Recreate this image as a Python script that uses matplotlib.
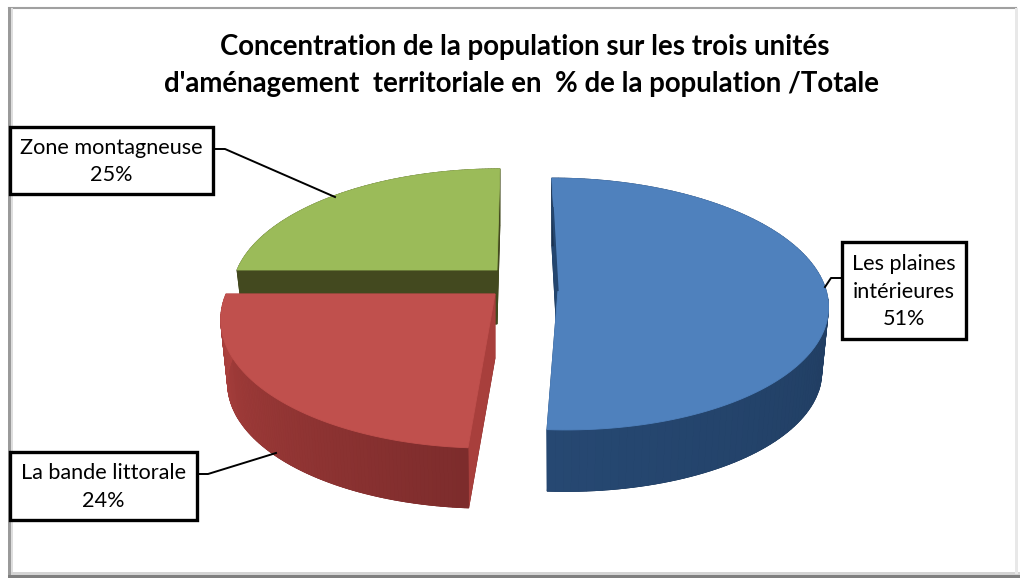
#!/usr/bin/env python3
import numpy as np
import matplotlib
matplotlib.use("Agg")
import matplotlib.pyplot as plt
from matplotlib.colors import to_rgb
from matplotlib.patches import Polygon, Rectangle

plt.rcParams["font.family"] = ["Lato", "DejaVu Sans"]

categories = ["Les plaines\nintérieures", "La bande littorale", "Zone montagneuse"]
values = [51, 24, 25]

title_lines = [
    "Concentration de la population sur les trois unités",
    "d'aménagement  territoriale en  % de la population /Totale",
]

top_colors = ["#4f81bd", "#c0504d", "#9bbb59"]
# side colour at the start and at the end of each slice arc
side_colors = [("#1b3250", "#264872"), ("#7d2c2c", "#ad413e"), ("#43491f", "#43491f")]
radial_colors = ["#24466f", "#a83f3c", "#43491f"]

# apex, half width, depth scale, perspective, shear, thickness (in pixels)
slices_geo = [
    dict(ax=558, ay=290, a=268, b=124.4, k=0.111, s=-7, depth=65),
    dict(ax=495, ay=294, a=269, b=127, k=0.176, s=5.4, depth=64),
    dict(ax=497, ay=270, a=260, b=119, k=0.176, s=3.5, depth=54),
]
SHRINK = 0.975

# box x0, y0, x1, y1 and leader line, pixels
boxes = [(842, 242, 966, 339), (10, 452, 197, 520), (10, 127, 213, 194)]
leaders = [
    ([842, 831, 825], [278, 278, 287]),
    ([197, 208, 276], [474, 474, 453]),
    ([213, 225, 335], [149, 149, 197]),
]


def project(g, theta, depth=0.0, shrink=1.0):
    x = np.sin(theta)
    y = np.cos(theta)
    w = 1 + g["k"] * y
    sx = g["ax"] + shrink * (g["a"] * x + g["s"] * y) / w
    sy = g["ay"] + depth - shrink * g["b"] * y / w
    return sx, sy


def mix(c1, c2, t):
    c1, c2 = np.array(to_rgb(c1)), np.array(to_rgb(c2))
    return tuple(c1 + (c2 - c1) * t)


def poly(ax, xs, ys, color, z):
    ax.add_patch(Polygon(np.column_stack([xs, ys]), closed=True, fc=color, ec=color, lw=0.6, zorder=z))


def draw_slice(ax, g, start, end, top, side, radial, z):
    t = np.linspace(start, end, 120)
    x0, y0 = project(g, t)
    x1, y1 = project(g, t, g["depth"], SHRINK)
    apex_bottom_y = g["ay"] + g["depth"]

    poly(ax, np.r_[g["ax"], x1], np.r_[apex_bottom_y, y1], side[0], z)
    for i in [0, -1]:
        poly(ax, [g["ax"], x0[i], x1[i], g["ax"]], [g["ay"], y0[i], y1[i], apex_bottom_y], radial, z)
    for i in range(len(t) - 1):
        c = mix(side[0], side[1], i / (len(t) - 2))
        poly(ax, [x0[i], x0[i + 1], x1[i + 1], x1[i]], [y0[i], y0[i + 1], y1[i + 1], y1[i]], c, z)
    poly(ax, np.r_[g["ax"], x0], np.r_[g["ay"], y0], top, z + 0.5)


def draw_frame(ax):
    ax.plot([9, 1016], [7.5, 7.5], color="#a0a0a0", lw=1.5, zorder=1)
    ax.add_patch(Rectangle((8, 7), 3, 568, fc="#9a9a9a", ec="none", zorder=1))
    ax.add_patch(Rectangle((11, 8), 2, 567, fc="#dedede", ec="none", zorder=1))
    ax.add_patch(Rectangle((8, 575), 1012, 3, fc="#7f7f7f", ec="none", zorder=1))
    ax.add_patch(Rectangle((11, 572), 1009, 3, fc="#d4d4d4", ec="none", zorder=1))
    ax.add_patch(Rectangle((1015, 8), 3, 566, fc="#e8e8e8", ec="none", zorder=1))


def main():
    fig = plt.figure(figsize=(10.26, 5.8), dpi=100)
    ax = fig.add_axes([0, 0, 1, 1])
    ax.set_xlim(0, 1026)
    ax.set_ylim(580, 0)
    ax.axis("off")

    draw_frame(ax)

    edges = np.r_[0, np.cumsum(values)] / np.sum(values) * 2 * np.pi
    # green at the back first, then blue, red in front
    for i, z in [(2, 3), (0, 4), (1, 5)]:
        draw_slice(ax, slices_geo[i], edges[i], edges[i + 1], top_colors[i], side_colors[i], radial_colors[i], z)

    # thin dark sliver along the upper straight edge of the blue slice
    g = slices_geo[0]
    sx, sy = project(g, 0.0)
    ax.plot([sx + 1, g["ax"] - 0.5], [sy + 30, g["ay"]], color="#24466f", lw=1.6, zorder=4.6)

    ax.text(525, 47, title_lines[0], ha="center", va="center", fontsize=19.9, fontweight="bold", color="black")
    ax.text(522, 84, title_lines[1], ha="center", va="center", fontsize=19.9, fontweight="bold", color="black")

    for name, val, box, lead in zip(categories, values, boxes, leaders):
        x0, y0, x1, y1 = box
        ax.add_patch(Rectangle((x0, y0), x1 - x0, y1 - y0, fc="white", ec="black", lw=2.4, zorder=7))
        ax.plot(lead[0], lead[1], color="black", lw=1.4, zorder=6)
        ax.text((x0 + x1) / 2, (y0 + y1) / 2 + 1, f"{name}\n{val}%", ha="center", va="center",
                fontsize=15.6, linespacing=1.45, color="black", zorder=8)

    fig.savefig("out.png", dpi=100)
    plt.close(fig)


if __name__ == "__main__":
    main()
